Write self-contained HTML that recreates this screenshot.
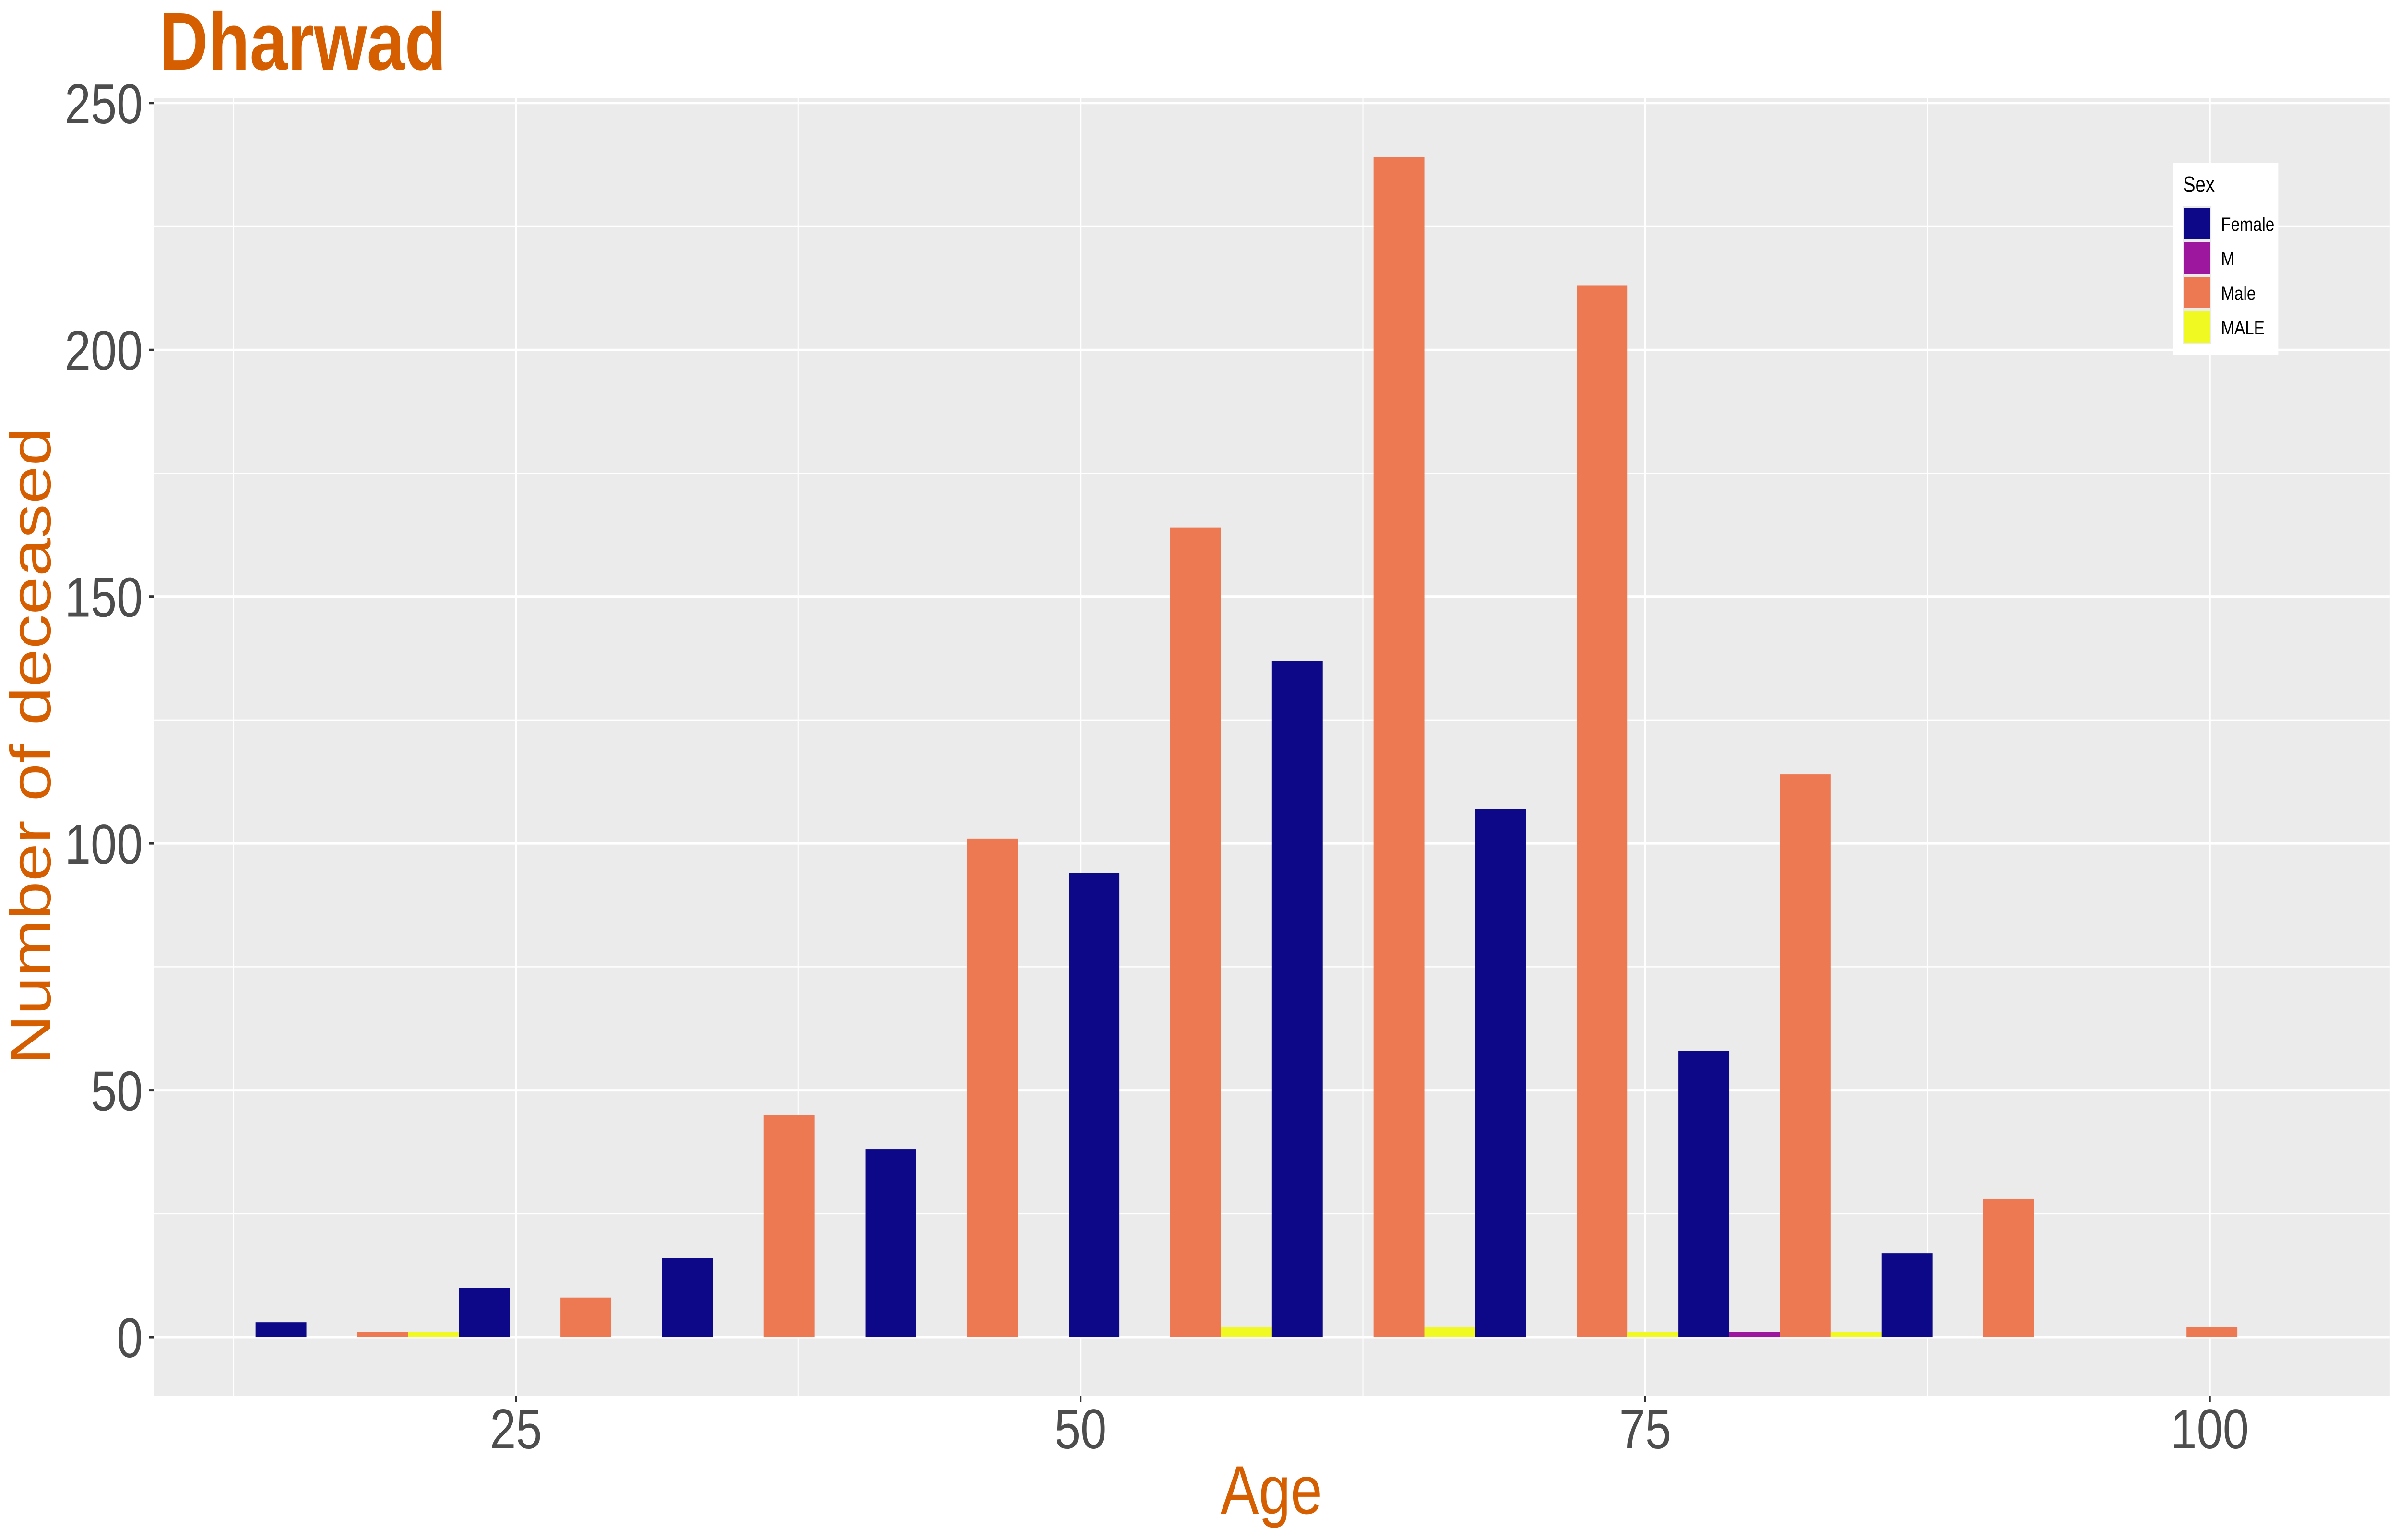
<!DOCTYPE html>
<html><head><meta charset="utf-8"><style>
html,body{margin:0;padding:0;background:#fff;overflow:hidden;width:100%;height:100%;}
svg{display:block;font-family:"Liberation Sans",Arial,sans-serif;width:100vw;height:100vh;}
</style></head><body>
<svg id="chart" viewBox="0 0 6000 3210" preserveAspectRatio="none" xmlns="http://www.w3.org/2000/svg">
<rect x="0" y="0" width="6000" height="3210" fill="#ffffff"/>
<text x="398" y="145" font-size="170" font-weight="bold" fill="#d55e00">Dharwad</text>
<rect x="385" y="205" width="5592" height="2705" fill="#ebebeb"/>
<g id="grid"></g>
<g id="bars"></g>
<g id="axes"></g>
<text x="3180" y="3155" font-size="143" fill="#d55e00" text-anchor="middle">Age</text>
<text transform="translate(126,1555) rotate(-90)" font-size="143" fill="#d55e00" text-anchor="middle">Number of deceased</text>
<g>
<rect x="5436" y="340" width="262" height="400" fill="#ffffff"/>
<text x="5460" y="400" font-size="46" fill="#000">Sex</text>
<g id="legend-items"></g>
</g>
</svg>
<script>
const categories = ["Female", "M", "Male", "MALE"];
const colors = ["#0d0887", "#9c179e", "#ed7953", "#f0f921"];
const binStarts = [13.47, 22.47, 31.47, 40.47, 49.47, 58.47, 67.47, 76.47, 85.47, 94.47];
const binWidth = 9.0;
const femaleCounts = [3, 10, 16, 38, 94, 137, 107, 58, 17, 0];
const mCounts = [0, 0, 0, 0, 0, 0, 0, 1, 0, 0];
const maleCounts = [1, 8, 45, 101, 164, 239, 213, 114, 28, 2];
const maleUpperCounts = [1, 0, 0, 0, 2, 2, 1, 1, 0, 0];
const xTicks = [25, 50, 75, 100];
const xMinor = [12.5, 37.5, 62.5, 87.5];
const yTicks = [0, 50, 100, 150, 200, 250];
const yMinor = [25, 75, 125, 175, 225];

const NS = "http://www.w3.org/2000/svg";
const PL = 385, PR = 5977, PT = 205, PB = 2910;
const XD0 = 8.97, XD1 = 107.97, YD0 = -11.95, YD1 = 250.95;
function xs(v){ return PL + (v - XD0) / (XD1 - XD0) * (PR - PL); }
function ys(v){ return PB - (v - YD0) / (YD1 - YD0) * (PB - PT); }
function mk(tag, attrs, parent){ const e = document.createElementNS(NS, tag); for (const k in attrs) e.setAttribute(k, attrs[k]); parent.appendChild(e); return e; }

const grid = document.getElementById("grid");
yMinor.forEach(v => {
  const l = mk("line", {x1: PL, x2: PR, y1: ys(v), y2: ys(v), stroke: "#fff", "stroke-width": 2.5}, grid);
  
  
});
xMinor.forEach(v => {
  const l = mk("line", {x1: xs(v), x2: xs(v), y1: PT, y2: PB, stroke: "#fff", "stroke-width": 2.5}, grid);
  
  
});
yTicks.forEach(v => {
  const l = mk("line", {x1: PL, x2: PR, y1: ys(v), y2: ys(v), stroke: "#fff", "stroke-width": 5}, grid);
  
  
});
xTicks.forEach(v => {
  const l = mk("line", {x1: xs(v), x2: xs(v), y1: PT, y2: PB, stroke: "#fff", "stroke-width": 5}, grid);
  
  
});

const bars = document.getElementById("bars");
const series = [femaleCounts, mCounts, maleCounts, maleUpperCounts];
binStarts.forEach((b, i) => {
  const slot = binWidth / categories.length;
  series.forEach((s, j) => {
    const v = s[i];
    if (!v) return;
    const x0 = xs(b + slot * j), x1 = xs(b + slot * (j + 1));
    const r = mk("rect", {x: x0, y: ys(v), width: x1 - x0, height: ys(0) - ys(v), fill: colors[j]}, bars);
    
    
  });
});

const axes = document.getElementById("axes");
yTicks.forEach(v => {
  const t = mk("line", {x1: PL - 12, x2: PL, y1: ys(v), y2: ys(v), stroke: "#333", "stroke-width": 5}, axes);
  
  
  const tx = mk("text", {x: 357, y: ys(v) + 42, "font-size": 117, fill: "#4d4d4d", "text-anchor": "end"}, axes);
  tx.textContent = v;
  
  
});
xTicks.forEach(v => {
  const t = mk("line", {x1: xs(v), x2: xs(v), y1: PB, y2: PB + 12, stroke: "#333", "stroke-width": 5}, axes);
  
  
  const tx = mk("text", {x: xs(v), y: 3019, "font-size": 117, fill: "#4d4d4d", "text-anchor": "middle"}, axes);
  tx.textContent = v;
  
  
});

const li = document.getElementById("legend-items");
categories.forEach((c, j) => {
  const y = 433 + j * 72;
  const bg = mk("rect", {x: 5459, y: y - 3, width: 72, height: 72, fill: "#ebebeb"}, li);
  
  
  const k = mk("rect", {x: 5462, y: y, width: 66, height: 66, fill: colors[j]}, li);
  
  
  const t = mk("text", {x: 5555, y: y + 48, "font-size": 40, fill: "#000"}, li);
  t.textContent = c;
  
  
});
</script>
</body></html>
